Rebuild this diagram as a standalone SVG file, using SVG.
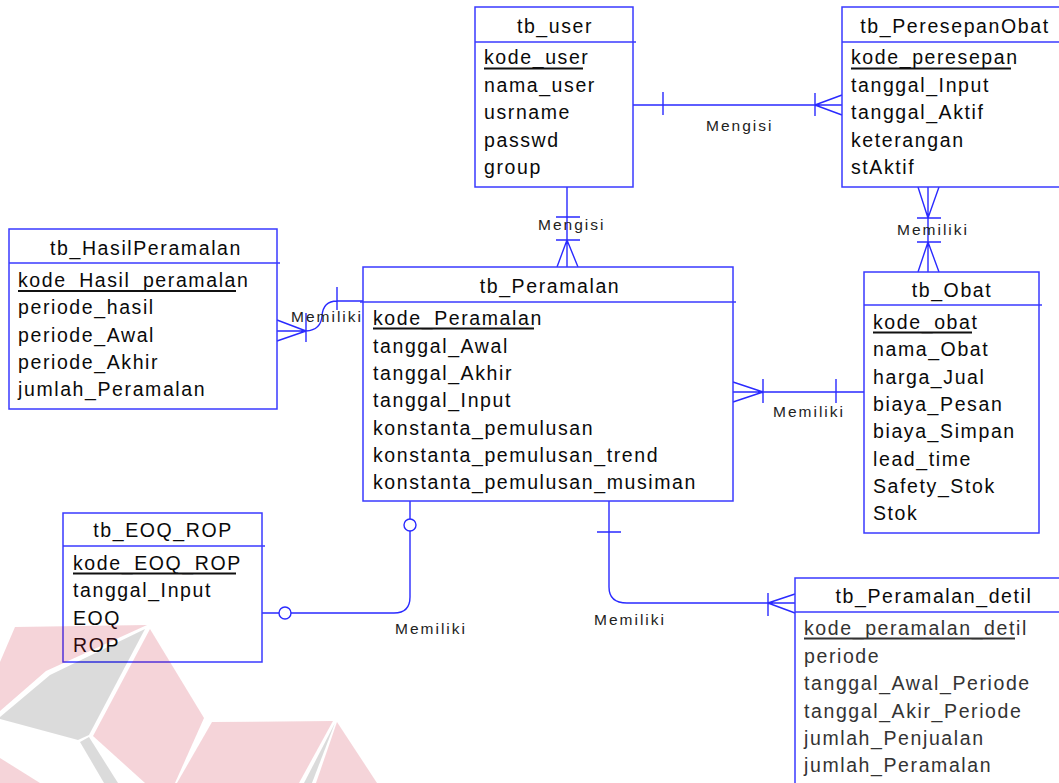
<svg xmlns="http://www.w3.org/2000/svg" width="1059" height="783" viewBox="0 0 1059 783">
  <style>
    .box { fill: #ffffff; stroke: #3a3aff; stroke-width: 1.5; }
    .hdr { stroke: #3a3aff; stroke-width: 1.5; }
    .title { font-family: "Liberation Sans", Arial, sans-serif; font-size: 19.5px; letter-spacing: 1.6px; fill: #0a0a0a; text-anchor: middle; }
    .attr { font-family: "Liberation Sans", Arial, sans-serif; font-size: 19.5px; letter-spacing: 1.6px; fill: #0a0a0a; }
    .dim { fill: #333333; }
    .pk { stroke: #111111; stroke-width: 1.8; }
    .lbl { font-family: "Liberation Sans", Arial, sans-serif; font-size: 15.5px; letter-spacing: 2px; fill: #222222; }
    .ln { fill: none; stroke: #2a2aff; stroke-width: 1.4; }
    .ring { fill: #ffffff; stroke: #2a2aff; stroke-width: 1.4; }
    .wm-r { fill: #c8102e; fill-opacity: 0.18; }
    .wm-g { fill: #000000; fill-opacity: 0.14; }
  </style>

  <!-- connectors -->
  <g id="connectors">
    <!-- tb_user to tb_PeresepanObat -->
    <path class="ln" d="M633,105 L842,105 M663,92 L663,115 M815,93 L815,116 M815,105 L842,95 M815,105 L842,115"/>
    <text class="lbl" x="706" y="131">Mengisi</text>

    <!-- tb_PeresepanObat to tb_Obat -->
    <path class="ln" d="M928,187 L928,272 M918,187 L928,218 M939,187 L928,218 M917,218 L941,218 M917,242 L941,242 M928,242 L918,272 M928,242 L939,272"/>
    <text class="lbl" x="897" y="235">Memiliki</text>

    <!-- tb_user to tb_Peramalan -->
    <path class="ln" d="M567,187 L567,267 M556,217 L580,217 M556,240 L580,240 M567,240 L557,267 M567,240 L578,267"/>
    <text class="lbl" x="538" y="230">Mengisi</text>

    <!-- tb_HasilPeramalan to tb_Peramalan -->
    <path class="ln" d="M277,331 L306,331 M306,331 L277,320 M306,331 L277,341 M306,313 L306,342 M306,331 Q321,330 322,316 Q323,301 337,301 L363,301 M337,287 L337,310"/>
    <text class="lbl" x="291" y="322">Memiliki</text>

    <!-- tb_Peramalan to tb_Obat -->
    <path class="ln" d="M733,392 L864,392 M763,392 L733,382 M763,392 L733,402 M763,379 L763,403 M836,379 L836,403"/>
    <text class="lbl" x="773" y="417">Memiliki</text>

    <!-- tb_EOQ_ROP to tb_Peramalan -->
    <path class="ln" d="M262,613 L394,613 Q410,613 410,597 L410,501"/>
    <circle class="ring" cx="285" cy="613" r="6"/>
    <circle class="ring" cx="410" cy="525" r="6"/>
    <text class="lbl" x="395" y="634">Memiliki</text>

    <!-- tb_Peramalan to tb_Peramalan_detil -->
    <path class="ln" d="M609,501 L609,587 Q609,603 627,603 L795,603 M597,532 L621,532 M768,593 L768,616 M768,603 L795,594 M768,603 L795,613"/>
    <text class="lbl" x="594" y="625">Memiliki</text>
  </g>

  <!-- tb_user -->
  <g id="tb_user">
    <rect class="box" x="475" y="7" width="158" height="180"/>
    <line class="hdr" x1="475" y1="42" x2="636" y2="42"/>
    <text class="title" x="555" y="33">tb_user</text>
    <text class="attr" x="484" y="64">kode_user</text>
    <line class="pk" x1="484" y1="68.5" x2="583" y2="68.5"/>
    <text class="attr" x="484" y="91.5">nama_user</text>
    <text class="attr" x="484" y="119">usrname</text>
    <text class="attr" x="484" y="146.5">passwd</text>
    <text class="attr" x="484" y="174">group</text>
  </g>

  <!-- tb_PeresepanObat -->
  <g id="tb_PeresepanObat">
    <rect class="box" x="842" y="7" width="224" height="180"/>
    <line class="hdr" x1="842" y1="42" x2="1066" y2="42"/>
    <text class="title" x="955" y="33">tb_PeresepanObat</text>
    <text class="attr" x="851" y="64">kode_peresepan</text>
    <line class="pk" x1="851" y1="68.5" x2="1011" y2="68.5"/>
    <text class="attr" x="851" y="91.5">tanggal_Input</text>
    <text class="attr" x="851" y="119">tanggal_Aktif</text>
    <text class="attr" x="851" y="146.5">keterangan</text>
    <text class="attr" x="851" y="174">stAktif</text>
  </g>

  <!-- tb_HasilPeramalan -->
  <g id="tb_HasilPeramalan">
    <rect class="box" x="9" y="229" width="268" height="180"/>
    <line class="hdr" x1="9" y1="263" x2="280" y2="263"/>
    <text class="title" x="146" y="255">tb_HasilPeramalan</text>
    <text class="attr" x="18" y="287">kode_Hasil_peramalan</text>
    <line class="pk" x1="18" y1="291" x2="236" y2="291"/>
    <text class="attr" x="18" y="314">periode_hasil</text>
    <text class="attr" x="18" y="341.5">periode_Awal</text>
    <text class="attr" x="18" y="368.5">periode_Akhir</text>
    <text class="attr" x="18" y="395.5">jumlah_Peramalan</text>
  </g>

  <!-- tb_Peramalan -->
  <g id="tb_Peramalan">
    <rect class="box" x="363" y="267" width="370" height="234"/>
    <line class="hdr" x1="360" y1="302" x2="736" y2="302"/>
    <text class="title" x="550" y="293">tb_Peramalan</text>
    <text class="attr" x="373" y="325">kode_Peramalan</text>
    <line class="pk" x1="373" y1="328.5" x2="534" y2="328.5"/>
    <text class="attr" x="373" y="352.5">tanggal_Awal</text>
    <text class="attr" x="373" y="379.5">tanggal_Akhir</text>
    <text class="attr" x="373" y="407">tanggal_Input</text>
    <text class="attr" x="373" y="434.5">konstanta_pemulusan</text>
    <text class="attr" x="373" y="462">konstanta_pemulusan_trend</text>
    <text class="attr" x="373" y="489">konstanta_pemulusan_musiman</text>
  </g>

  <!-- tb_Obat -->
  <g id="tb_Obat">
    <rect class="box" x="864" y="272" width="175" height="261"/>
    <line class="hdr" x1="864" y1="305" x2="1042" y2="305"/>
    <text class="title" x="952" y="297">tb_Obat</text>
    <text class="attr" x="873" y="329">kode_obat</text>
    <line class="pk" x1="873" y1="332.5" x2="972" y2="332.5"/>
    <text class="attr" x="873" y="356">nama_Obat</text>
    <text class="attr" x="873" y="383.5">harga_Jual</text>
    <text class="attr" x="873" y="410.5">biaya_Pesan</text>
    <text class="attr" x="873" y="438">biaya_Simpan</text>
    <text class="attr" x="873" y="465.5">lead_time</text>
    <text class="attr" x="873" y="493">Safety_Stok</text>
    <text class="attr" x="873" y="520">Stok</text>
  </g>

  <!-- tb_EOQ_ROP -->
  <g id="tb_EOQ_ROP">
    <rect class="box" x="63" y="513" width="199" height="149"/>
    <line class="hdr" x1="63" y1="546" x2="265" y2="546"/>
    <text class="title" x="163" y="537">tb_EOQ_ROP</text>
    <text class="attr" x="73" y="570">kode_EOQ_ROP</text>
    <line class="pk" x1="73" y1="573.5" x2="236" y2="573.5"/>
    <text class="attr" x="73" y="597">tanggal_Input</text>
    <text class="attr" x="73" y="624.5">EOQ</text>
    <text class="attr" x="73" y="651.5">ROP</text>
  </g>

  <!-- tb_Peramalan_detil -->
  <g id="tb_Peramalan_detil">
    <rect class="box" x="795" y="578" width="276" height="215"/>
    <line class="hdr" x1="795" y1="612" x2="1071" y2="612"/>
    <text class="title" x="934" y="603">tb_Peramalan_detil</text>
    <text class="attr dim" x="804" y="635">kode_peramalan_detil</text>
    <line class="pk" x1="804" y1="638.5" x2="1015" y2="638.5" stroke="#333333" style="stroke:#333333"/>
    <text class="attr dim" x="804" y="663">periode</text>
    <text class="attr dim" x="804" y="690">tanggal_Awal_Periode</text>
    <text class="attr dim" x="804" y="718">tanggal_Akir_Periode</text>
    <text class="attr dim" x="804" y="745">jumlah_Penjualan</text>
    <text class="attr dim" x="804" y="772">jumlah_Peramalan</text>
  </g>

  <!-- faint logo in the lower left corner -->
  <g id="logo">
    <!-- upper kite -->
    <polygon class="wm-r" points="15,627 147,625 46,671 0,711 0,662"/>
    <polygon class="wm-g" points="145,629 50,675 0,717 0,719 78,740 89,735"/>
    <polygon class="wm-g" points="80,742 89,737 118,783 104,783"/>
    <polygon class="wm-r" points="150,629 204,718 175,783 145,783 93,736"/>
    <polygon class="wm-r" points="0,758 40,783 0,783"/>
    <!-- lower kite -->
    <polygon class="wm-r" points="212,722 333,721 299,783 177,783"/>
    <polygon class="wm-g" points="335,723 304,783 312,783"/>
    <polygon class="wm-r" points="337,722 377,783 316,783"/>
  </g>
</svg>
